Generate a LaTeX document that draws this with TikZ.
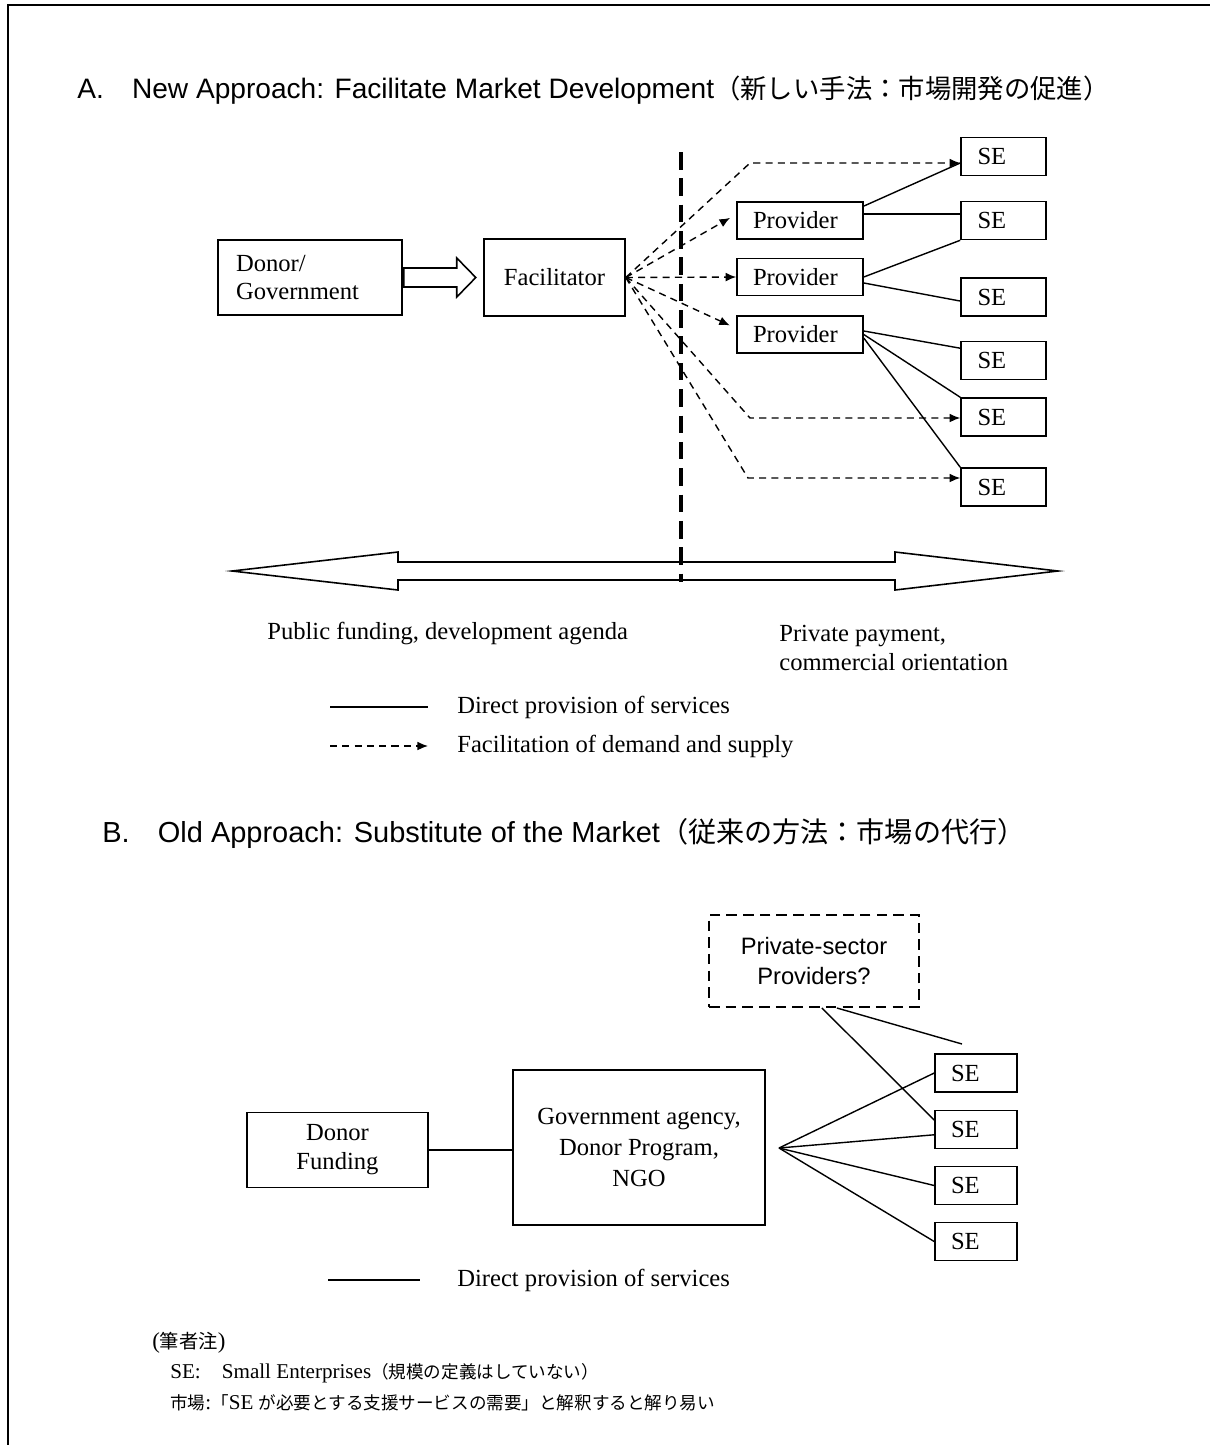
\documentclass[tikz,border=0pt]{standalone}
\usepackage{fontspec}
\setmainfont{Liberation Serif}
\newfontfamily\arialfont{Liberation Sans}
\newfontfamily\jpfont{Noto Sans CJK JP}
\usetikzlibrary{arrows.meta,calc}

\begin{document}
\begin{tikzpicture}[x=0.02cm, y=-0.02cm,
	box/.style={draw, line width=0.9pt, inner sep=0pt, font=\fontsize{14}{16.5}\selectfont},
	provbox/.style={box, text width=1.88cm, inner xsep=0.32cm, minimum height=0.74cm, align=left},
	sebox/.style={box, text width=1.04cm, inner xsep=0.33cm, minimum height=0.76cm, align=left},
	sebbox/.style={box, text width=1.0cm, inner xsep=0.32cm, minimum height=0.76cm, align=left},
	facil/.style={line width=0.8pt, dash pattern=on 4pt off 3pt, -{Latex[length=6pt,width=5pt]}},
	direct/.style={line width=0.8pt},
	legtext/.style={font=\fontsize{14}{16.5}\selectfont, inner sep=0pt, anchor=west, align=left},
	titletext/.style={inner sep=0pt, anchor=west, font=\arialfont\fontsize{16}{18}\selectfont},
	notetext/.style={inner sep=0pt, anchor=west, font=\fontsize{12}{13}\selectfont}]
	\useasboundingbox (0,0) rectangle (1210,1445);
	\draw[line width=1.1pt] (8,1445) -- (8,5) -- (1210,5);

	\node[titletext] (titleA) at (77,90.5) {A.\hspace{16pt}New Approach: Facilitate Market Development{\jpfont\fontsize{15}{18}\selectfont （新しい手法：市場開発の促進）}};

	\node[box, text width=2.96cm, inner xsep=0.36cm, minimum height=1.5cm, align=left] (donor) at (310,277.5) {Donor/\\Government};
	\node[box, minimum width=2.82cm, minimum height=1.54cm] (fac) at (554.5,277.5) {Facilitator};
	\node[provbox] (prov1) at (800,220.5) {Provider};
	\node[provbox] (prov2) at (800,277) {Provider};
	\node[provbox] (prov3) at (800,334.5) {Provider};
	\node[sebox] (se1) at (1003.5,156.5) {SE};
	\node[sebox] (se2) at (1003.5,220.5) {SE};
	\node[sebox] (se3) at (1003.5,297) {SE};
	\node[sebox] (se4) at (1003.5,360.5) {SE};
	\node[sebox] (se5) at (1003.5,417) {SE};
	\node[sebox] (se6) at (1003.5,487) {SE};

	\draw[line width=0.9pt] ($(donor.east)+(1,-9.5)$) -- ++(53,0) -- ++(0,-10) -- ++(19,19.5) -- ++(-19,19.5) -- ++(0,-10) -- ++(-53,0) -- cycle;

	\draw[line width=2.2pt, dash pattern=on 10pt off 5pt] (681,152) -- (681,582);

	\coordinate (k1) at (750,163);
	\coordinate (k2) at (750,418);
	\coordinate (k3) at (748,478);
	\draw[facil] (fac.east) -- (k1) -- (k1 -| se1.west);
	\draw[facil, shorten >=4pt] (fac.east) -- ([yshift=3.5pt]prov1.west);
	\draw[facil] (fac.east) -- (prov2.west);
	\draw[facil, shorten >=4pt] (fac.east) -- ([yshift=3.5pt]prov3.west);
	\draw[facil] (fac.east) -- (k2) -- (k2 -| se5.west);
	\draw[facil] (fac.east) -- (k3) -- (k3 -| se6.west);

	\coordinate (d1) at ([yshift=3.7pt]prov1.east);
	\draw[direct] ([yshift=8.2pt]prov1.east) -- (k1 -| se1.west);
	\draw[direct] (d1) -- (d1 -| se2.west);
	\draw[direct] (prov2.east) -- (se2.south west);
	\draw[direct] ([yshift=-3.4pt]prov2.east) -- ([yshift=-2.3pt]se3.west);
	\draw[direct] ([yshift=2pt]prov3.east) -- ([yshift=7pt]se4.west);
	\draw[direct] (prov3.east) -- (se5.north west);
	\draw[direct] ([yshift=-2pt]prov3.east) -- (se6.north west);

	\draw[line width=0.9pt] (232,571) -- (398,552) -- (398,562) -- (895,562) -- (895,552) -- (1058,571) -- (895,590) -- (895,580) -- (398,580) -- (398,590) -- cycle;

	\node[legtext] (pub) at (267,633) {Public funding, development agenda};
	\node[legtext] (priv) at (779,647.5) {Private payment,\\commercial orientation};

	\coordinate (la1) at (330,707);
	\coordinate (la2) at (428,707);
	\coordinate (lb1) at (330,746);
	\coordinate (lb2) at (428,746);
	\draw[direct] (la1) -- (la2);
	\draw[facil] (lb1) -- (lb2);
	\node[legtext] (legA1) at (457,707) {Direct provision of services};
	\node[legtext] (legA2) at (457,746) {Facilitation of demand and supply};

	\node[titletext, font=\arialfont\fontsize{16.5}{18}\selectfont] (titleB) at (102,833) {B.\hspace{16pt}Old Approach: Substitute of the Market{\jpfont\fontsize{16}{18}\selectfont （従来の方法：市場の代行）}};

	\node[box, dash pattern=on 6pt off 3.5pt, line width=1.1pt, minimum width=4.2cm, minimum height=1.84cm, align=center, font=\arialfont\fontsize{13.5}{17.5}\selectfont] (pvt) at (814,961) {Private-sector\\Providers?};
	\node[box, minimum width=3.62cm, minimum height=1.5cm, align=center] (fund) at (337.5,1150) {Donor\\Funding};
	\node[box, minimum width=5.04cm, minimum height=3.1cm, align=center, font=\fontsize{14}{17.5}\selectfont] (agency) at (639,1147.5) {Government agency,\\Donor Program,\\NGO};
	\node[sebbox] (seb1) at (976,1073) {SE};
	\node[sebbox] (seb2) at (976,1129.5) {SE};
	\node[sebbox] (seb3) at (976,1185.5) {SE};
	\node[sebbox] (seb4) at (976,1241.5) {SE};

	\coordinate (fan) at (779,1148);
	\coordinate (loose) at (962,1044);
	\draw[direct] (fund.east) -- (fund.east -| agency.west);
	\draw[direct] (fan) -- (seb1.west);
	\draw[direct] (fan) -- ([yshift=-3pt]seb2.west);
	\draw[direct] (fan) -- (seb3.west);
	\draw[direct] (fan) -- (seb4.west);
	\draw[direct] ([xshift=4.5pt]pvt.south) -- ([yshift=5.4pt]seb2.west);
	\draw[direct] ([xshift=13pt]pvt.south) -- (loose);

	\coordinate (lc1) at (328,1280);
	\coordinate (lc2) at (420,1280);
	\draw[direct] (lc1) -- (lc2);
	\node[legtext] (legB) at (457,1280) {Direct provision of services};

	\node[notetext, font=\fontsize{13}{14}\selectfont] (note0) at (152,1343) {({\jpfont\fontsize{11}{13}\selectfont 筆者注})};
	\node[notetext] (note1) at (170,1373) {SE:\hspace{12pt}Small Enterprises{\jpfont\fontsize{10}{13}\selectfont （規模の定義はしていない）}};
	\node[notetext] (note2) at (170,1403) {{\jpfont\fontsize{10}{13}\selectfont 市場}:{\jpfont\fontsize{10}{13}\selectfont 「}SE {\jpfont\fontsize{10}{13}\selectfont が必要とする支援サービスの需要」と解釈すると解り易い}};
\end{tikzpicture}
\end{document}
